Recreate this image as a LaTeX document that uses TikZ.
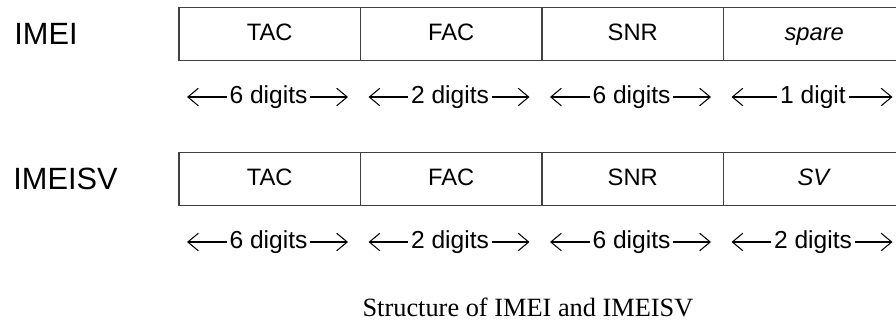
\documentclass[tikz,border=0pt]{standalone}
\usepackage{fontspec}
\setmainfont{Liberation Serif}
\setsansfont{Liberation Sans}
\usetikzlibrary{arrows.meta}

\tikzset{
  field/.style={draw=black!75,line width=0.8pt,minimum width=3.63cm,minimum height=1.06cm,
    text height=1.75ex,text depth=0.15ex,
    font=\sffamily\fontsize{13.5}{16}\selectfont},
  idname/.style={anchor=west,inner sep=0pt,font=\sffamily\fontsize{17.5}{20}\selectfont},
  digits/.style={inner sep=1.5pt,font=\sffamily\fontsize{14}{16}\selectfont},
  dim/.style={-{Straight Barb[length=6pt,width=10pt]},line width=0.6pt}
}

\begin{document}
\begin{tikzpicture}[x=0.02cm,y=-0.02cm]
\useasboundingbox (0,0) rectangle (896,321);

% IMEI
\node[idname] (imei) at (14,34) {IMEI};
\foreach \txt/\len [count=\i] in {TAC/6 digits,FAC/2 digits,SNR/6 digits,\textit{spare}/1 digit}{
  \node[field] (imeif\i) at ({269.75+(\i-1)*181.5},34) {\txt};
  \node[digits] (imeid\i) at ({268.5+(\i-1)*181.5},97) {\len};
  \coordinate (imeia\i) at ({187+(\i-1)*181.5},97);
  \coordinate (imeib\i) at ({348+(\i-1)*181.5},97);
  \draw[dim] (imeid\i.west) -- (imeia\i);
  \draw[dim] (imeid\i.east) -- (imeib\i);
}

% IMEISV
\node[idname] (imeisv) at (13,179) {IMEISV};
\foreach \txt/\len [count=\i] in {TAC/6 digits,FAC/2 digits,SNR/6 digits,\textit{SV}/2 digits}{
  \node[field] (svf\i) at ({269.75+(\i-1)*181.5},179) {\txt};
  \node[digits] (svd\i) at ({268.5+(\i-1)*181.5},242) {\len};
  \coordinate (sva\i) at ({187+(\i-1)*181.5},242);
  \coordinate (svb\i) at ({348+(\i-1)*181.5},242);
  \draw[dim] (svd\i.west) -- (sva\i);
  \draw[dim] (svd\i.east) -- (svb\i);
}

\node[font=\fontsize{15}{18}\selectfont] (caption) at (528,307) {Structure of IMEI and IMEISV};

\end{tikzpicture}
\end{document}
